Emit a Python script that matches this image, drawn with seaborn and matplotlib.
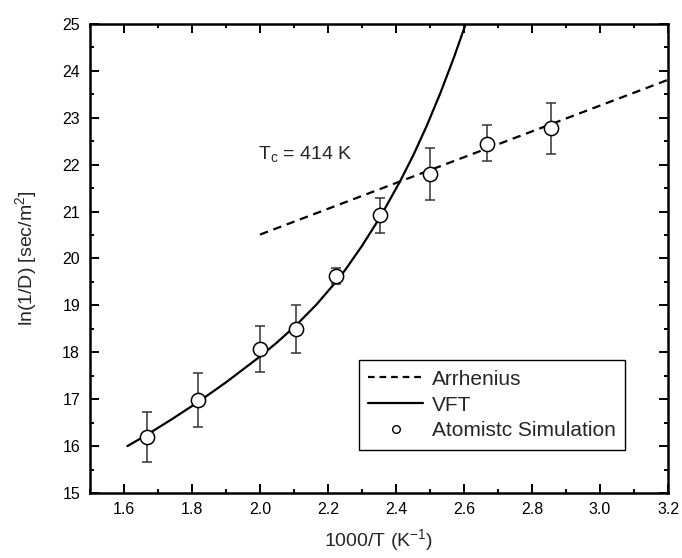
import matplotlib
matplotlib.use("Agg")
import matplotlib.pyplot as plt
from matplotlib.ticker import MultipleLocator
from matplotlib.lines import Line2D
import seaborn as sns
import pandas as pd

# ---- data ----
sim_x = [1.667, 1.818, 2.000, 2.105, 2.222, 2.353, 2.500, 2.667, 2.857]
sim_y = [16.19, 16.99, 18.07, 18.49, 19.62, 20.92, 21.80, 22.45, 22.79]
sim_lo = [15.66, 16.41, 17.59, 17.99, 19.45, 20.55, 21.24, 22.07, 22.23]
sim_hi = [16.73, 17.56, 18.55, 19.01, 19.80, 21.30, 22.35, 22.85, 23.32]

arr_x = [2.0, 3.2]
arr_y = [20.51, 23.81]

vft_x = [1.61, 1.667, 1.74, 1.818, 1.90, 2.0, 2.05, 2.105, 2.165, 2.222,
         2.251, 2.30, 2.354, 2.413, 2.452, 2.491, 2.530, 2.570, 2.602, 2.630]
vft_y = [16.00, 16.24, 16.57, 16.94, 17.36, 17.91, 18.21, 18.57, 19.01, 19.49,
         19.76, 20.27, 20.89, 21.66, 22.22, 22.84, 23.52, 24.28, 24.94, 25.56]

x_ticks = [1.6, 1.8, 2.0, 2.2, 2.4, 2.6, 2.8, 3.0, 3.2]
y_ticks = [15, 16, 17, 18, 19, 20, 21, 22, 23, 24, 25]

sns.set_style("ticks")
plt.rcParams["font.family"] = ["Liberation Sans", "DejaVu Sans"]
plt.rcParams["mathtext.fontset"] = "custom"
plt.rcParams["mathtext.rm"] = "Liberation Sans"
plt.rcParams["mathtext.it"] = "Liberation Sans"
plt.rcParams["mathtext.default"] = "regular"

fig = plt.figure(figsize=(6.82, 5.58), dpi=100)
ax = fig.add_axes([0.132, 0.1165, 0.8475, 0.8405])

df_arr = pd.DataFrame({"x": arr_x, "y": arr_y})
df_vft = pd.DataFrame({"x": vft_x, "y": vft_y})
df_sim = pd.DataFrame({"x": sim_x, "y": sim_y})

sns.lineplot(data=df_arr, x="x", y="y", ax=ax, color="black", lw=1.6,
             linestyle=(0, (3.8, 2.6)), estimator=None, sort=False)
sns.lineplot(data=df_vft, x="x", y="y", ax=ax, color="black", lw=1.6,
             estimator=None, sort=False)

yerr = [[y - lo for y, lo in zip(sim_y, sim_lo)],
        [hi - y for y, hi in zip(sim_y, sim_hi)]]
ax.errorbar(sim_x, sim_y, yerr=yerr, fmt="none", ecolor="#333333",
            elinewidth=1.1, capsize=3.3, capthick=1.1, zorder=3)
sns.scatterplot(data=df_sim, x="x", y="y", ax=ax, s=105, marker="o",
                facecolor="white", edgecolor="black", linewidth=1.1, zorder=4)

ax.set_xlim(1.5, 3.2)
ax.set_ylim(15, 25)
ax.set_xticks(x_ticks)
ax.set_xticklabels([f"{v:.1f}" for v in x_ticks])
ax.set_yticks(y_ticks)
ax.xaxis.set_minor_locator(MultipleLocator(0.1))
ax.yaxis.set_minor_locator(MultipleLocator(0.5))
ax.tick_params(which="both", direction="in", top=True, right=True,
               width=1.4, labelsize=11.5, colors="black")
ax.tick_params(which="major", length=6.5)
ax.tick_params(which="minor", length=3.2)
ax.tick_params(axis="x", which="major", pad=6.5)
ax.tick_params(axis="y", which="major", pad=7.2)
for s in ax.spines.values():
    s.set_linewidth(1.8)
    s.set_color("black")

ax.set_xlabel("1000/T (K$^{-1}$)", fontsize=14, labelpad=7)
ax.set_ylabel("ln(1/D) [sec/m$^{2}$]", fontsize=14, labelpad=17)

ax.text(1.994, 22.12, "T$_{c}$ = 414 K", fontsize=14, va="baseline", ha="left")

handles = [
    Line2D([], [], color="black", lw=1.6, linestyle=(0, (3.0, 2.2))),
    Line2D([], [], color="black", lw=1.6),
    Line2D([], [], color="black", marker="o", markersize=5.5, lw=0,
           markerfacecolor="white", markeredgewidth=1.0),
]
leg = ax.legend(handles, ["Arrhenius", "VFT", "Atomistc Simulation"],
                loc="lower right", bbox_to_anchor=(0.926, 0.092),
                borderaxespad=0,
                fontsize=15, frameon=True, fancybox=False, framealpha=1,
                edgecolor="black", handlelength=2.6, handletextpad=0.45,
                borderpad=0.45, labelspacing=0.33)
leg.get_frame().set_linewidth(1.0)

fig.savefig("out.png", dpi=100)
